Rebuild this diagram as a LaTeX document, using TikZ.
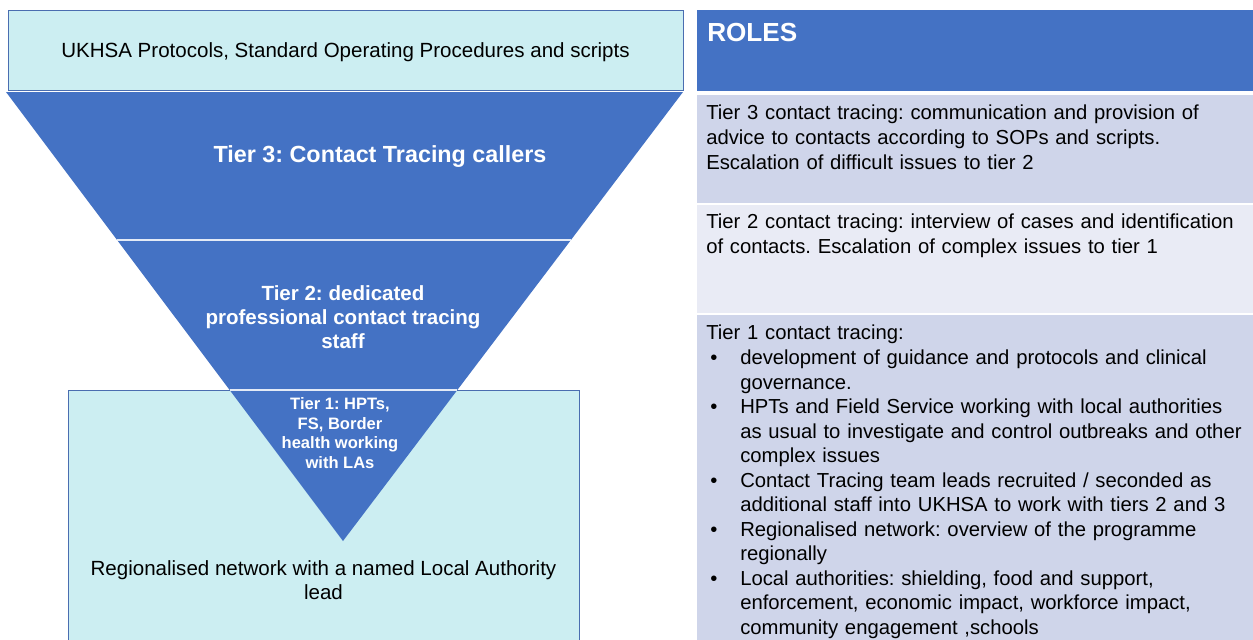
\documentclass[tikz,border=0pt]{standalone}
\usepackage{fontspec}
\setmainfont{Liberation Sans}
\usetikzlibrary{calc}
\frenchspacing
\definecolor{triblue}{HTML}{4472C4}
\definecolor{paleCyan}{HTML}{CCEEF2}
\definecolor{rowdark}{HTML}{CFD5EA}
\definecolor{rowlight}{HTML}{E9EBF5}
\definecolor{boxline}{HTML}{4A6DB0}
\newcommand\bitem[1]{\par\hangindent=25.5pt\hangafter=1\noindent\makebox[25.5pt][l]{\hspace{3pt}\textbullet}#1}
\begin{document}
\begin{tikzpicture}[x=0.75pt,y=-0.75pt,
  body/.style={font=\frenchspacing\fontsize{15.4}{18.4}\selectfont, inner sep=0pt},
  cyanbox/.style={draw=boxline, fill=paleCyan, line width=0.75pt, inner sep=0pt},
  rowcell/.style={fill=#1, draw=none, inner sep=0pt, anchor=north west, minimum width=417pt},
  rowtext/.style={font=\frenchspacing\fontsize{15.2}{18.4}\selectfont, inner sep=0pt, text width=415pt, align=left, anchor=north west},
  tiertext/.style={text=white, align=center, inner sep=0pt},
  sepline/.style={draw=white!85!triblue, line width=1pt}
]
\useasboundingbox (0,0) rectangle (1253,639);
\fill[white] (0,0) rectangle (1253,639);

% bottom regional box
\node[cyanbox, anchor=north west, minimum width=383.25pt, minimum height=202.5pt] (reg) at (68,390) {};
\node[body, align=center] (regtext) at (323.5,580) {Regionalised network with a named Local Authority\\lead};

% top protocols box
\node[cyanbox, minimum width=506.25pt, minimum height=60pt] (proto) at (345.5,50) {};
\node[body] (prototxt) at (345.5,52.5) {UKHSA Protocols, Standard Operating Procedures and scripts};

% inverted triangle
\coordinate (TL) at (6,92);
\coordinate (TR) at (683,92);
\coordinate (AP) at (343,541);
\fill[triblue] (TL) -- (TR) -- (AP) -- cycle;
\draw[sepline] ($(TL)!0.3296!(AP)$) -- ($(TR)!0.3296!(AP)$);
\draw[sepline] ($(TL)!0.6637!(AP)$) -- ($(TR)!0.6637!(AP)$);

\node[tiertext, font=\frenchspacing\fontsize{17.5}{21}\selectfont\bfseries] (tier3) at (380,157) {Tier 3: Contact Tracing callers};
\node[tiertext, font=\frenchspacing\fontsize{15.4}{18}\selectfont\bfseries] (tier2) at (343,317) {Tier 2: dedicated\\professional contact tracing\\staff};
\node[tiertext, font=\frenchspacing\fontsize{12.4}{14.6}\selectfont\bfseries] (tier1) at (340,433) {Tier 1: HPTs,\\FS, Border\\health working\\with LAs};

% right panel
\node[rowcell=triblue, minimum height=60.75pt] (roles) at (697,10) {};
\node[anchor=base west, inner sep=0pt, text=white, font=\fontsize{19.6}{23}\selectfont\bfseries] (rolestxt) at (707,41) {ROLES};

\node[rowcell=rowdark, minimum height=81pt] (row3) at (697,95) {};
\node[rowcell=rowlight, minimum height=81pt] (row2) at (697,205) {};
\node[rowcell=rowdark, minimum height=260pt] (row1) at (697,315) {};

\node[rowtext] (row3txt) at (706,105) {Tier 3 contact tracing: communication and provision of\newline advice to contacts according to SOPs and scripts.\newline Escalation of difficult issues to tier 2};
\node[rowtext] (row2txt) at (706,214) {Tier 2 contact tracing: interview of cases and identification\newline of contacts. Escalation of complex issues to tier 1};
\node[rowtext] (row1txt) at (706,325) {\noindent Tier 1 contact tracing:%
\bitem{development of guidance and protocols and clinical\newline governance.}%
\bitem{HPTs and Field Service working with local authorities\newline as usual to investigate and control outbreaks and other\newline complex issues}%
\bitem{Contact Tracing team leads recruited / seconded as\newline additional staff into UKHSA to work with tiers 2 and 3}%
\bitem{Regionalised network: overview of the programme\newline regionally}%
\bitem{Local authorities: shielding, food and support,\newline enforcement, economic impact, workforce impact,\newline community engagement ,schools}\par};
\end{tikzpicture}
\end{document}
